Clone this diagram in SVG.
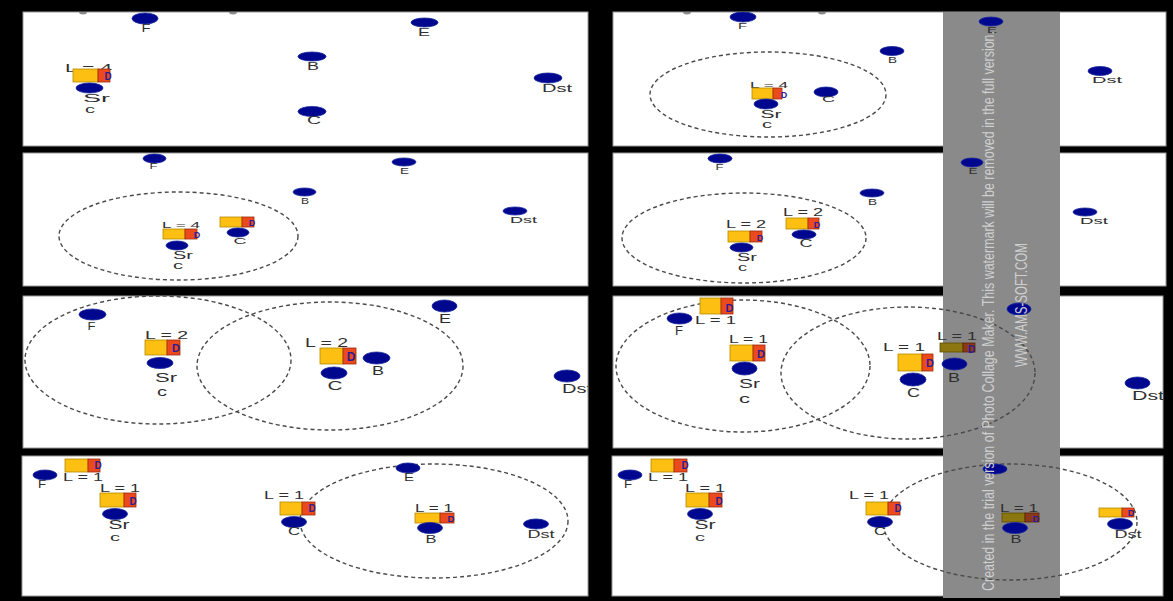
<svg xmlns="http://www.w3.org/2000/svg" width="1173" height="601" viewBox="0 0 1173 601">
<style>
.pn{fill:#fff;stroke:#9a9a9a;stroke-width:1}
.n{fill:#00078f;stroke:#1a2a9c;stroke-width:.8}
.t{font-family:"Liberation Sans",Arial,sans-serif;fill:#2f2f2f;text-anchor:middle}
.ts{font-family:"Liberation Sans",Arial,sans-serif;fill:#2f2f2f;text-anchor:start}
.ring{fill:none;stroke:#4a4a4a;stroke-width:1.4;stroke-dasharray:4 3}
.yb{fill:#fcbf12;stroke:#b58a00;stroke-width:.8}
.rb{fill:#ea4a1c;stroke:#9c2c10;stroke-width:.8}
.ydk{fill:#8c7610;stroke:#5e4e00;stroke-width:.8}
.rdk{fill:#8a3a18;stroke:#5a2008;stroke-width:.8}
.d{font-family:"Liberation Sans",Arial,sans-serif;font-weight:bold;fill:#2d1c94;text-anchor:middle}
.sp{fill:#8a8a8a}
.wm{font-family:"Liberation Sans Narrow","Liberation Sans",Arial,sans-serif;fill:#cfcfcf;text-anchor:start}
</style>
<defs>
<clipPath id="c1"><rect x="23" y="12" width="565" height="134"/></clipPath>
<clipPath id="c2"><rect x="613" y="12" width="553" height="134"/></clipPath>
<clipPath id="c3"><rect x="23" y="153" width="565" height="133"/></clipPath>
<clipPath id="c4"><rect x="613" y="153" width="553" height="133"/></clipPath>
<clipPath id="c5"><rect x="23" y="296" width="565" height="152"/></clipPath>
<clipPath id="c6"><rect x="613" y="296" width="550" height="152"/></clipPath>
<clipPath id="c7"><rect x="22" y="456" width="566" height="140"/></clipPath>
<clipPath id="c8"><rect x="612" y="456" width="551" height="140"/></clipPath>
</defs>
<rect x="0" y="0" width="1173" height="601" fill="#000"/>
<g id="panels">
<rect class="pn" x="23" y="12" width="565" height="134"/>
<rect class="pn" x="613" y="12" width="553" height="134"/>
<rect class="pn" x="23" y="153" width="565" height="133"/>
<rect class="pn" x="613" y="153" width="553" height="133"/>
<rect class="pn" x="23" y="296" width="565" height="152"/>
<rect class="pn" x="613" y="296" width="550" height="152"/>
<rect class="pn" x="22" y="456" width="566" height="140"/>
<rect class="pn" x="612" y="456" width="551" height="140"/>
</g>
<rect id="band" x="943" y="12" width="117" height="586" fill="#8a8a8a"/>

<!-- Panel 1 -->
<g id="panel1" clip-path="url(#c1)">
<ellipse class="sp" cx="83" cy="12" rx="4" ry="2.5"/>
<ellipse class="sp" cx="233" cy="12" rx="4" ry="2.5"/>
<g id="p1-F"><ellipse class="n" cx="145" cy="18.5" rx="13" ry="5.5"/><text class="t" x="146" y="32" font-size="10" textLength="9" lengthAdjust="spacingAndGlyphs">F</text></g>
<g id="p1-E"><ellipse class="n" cx="424.5" cy="22.5" rx="13.5" ry="4.5"/><text class="t" x="424" y="36" font-size="10" textLength="12" lengthAdjust="spacingAndGlyphs">E</text></g>
<g id="p1-B"><ellipse class="n" cx="312" cy="56.5" rx="14" ry="4.5"/><text class="t" x="313" y="70" font-size="10" textLength="12" lengthAdjust="spacingAndGlyphs">B</text></g>
<g id="p1-C"><ellipse class="n" cx="312" cy="111.5" rx="14" ry="5"/><text class="t" x="314" y="124" font-size="10" textLength="14" lengthAdjust="spacingAndGlyphs">C</text></g>
<g id="p1-Dst"><ellipse class="n" cx="548" cy="78" rx="14" ry="5"/><text class="t" x="557" y="92" font-size="10" textLength="30" lengthAdjust="spacingAndGlyphs">Dst</text></g>
<g id="p1-Sr">
<text class="t" x="88.5" y="72" font-size="11" textLength="47" lengthAdjust="spacingAndGlyphs">L = 4</text>
<rect class="yb" x="73" y="69" width="25" height="13"/><rect class="rb" x="98" y="69" width="12" height="13"/><text class="d" x="108" y="80" font-size="10">D</text>
<ellipse class="n" cx="89.5" cy="88" rx="13.5" ry="5"/>
<text class="t" x="96.5" y="102" font-size="11" textLength="27" lengthAdjust="spacingAndGlyphs">Sr</text>
<text class="t" x="90" y="113" font-size="11" textLength="10" lengthAdjust="spacingAndGlyphs">c</text>
</g>
</g>

<!-- Panel 2 -->
<g id="panel2" clip-path="url(#c2)">
<ellipse class="sp" cx="687" cy="12" rx="4" ry="2.5"/>
<ellipse class="sp" cx="822" cy="12" rx="4" ry="2.5"/>
<g id="p2-ranges"><ellipse class="ring" cx="768" cy="94.5" rx="118" ry="42.5"/></g>
<g id="p2-F"><ellipse class="n" cx="743" cy="17" rx="13" ry="5"/><text class="t" x="742.5" y="29" font-size="9.5" textLength="9" lengthAdjust="spacingAndGlyphs">F</text></g>
<g id="p2-Sr">
<text class="t" x="769" y="88" font-size="9" textLength="38" lengthAdjust="spacingAndGlyphs">L = 4</text>
<rect class="yb" x="752" y="88" width="21" height="11"/><rect class="rb" x="773" y="88" width="9" height="11"/><text class="d" x="784" y="98" font-size="9">D</text>
<ellipse class="n" cx="766" cy="104" rx="12" ry="5"/>
<text class="t" x="771" y="118" font-size="11" textLength="21" lengthAdjust="spacingAndGlyphs">Sr</text>
<text class="t" x="767" y="128" font-size="10" textLength="10" lengthAdjust="spacingAndGlyphs">c</text>
</g>
<g id="p2-C"><ellipse class="n" cx="826" cy="92" rx="12" ry="5"/><text class="t" x="828.5" y="102" font-size="9.5" textLength="13" lengthAdjust="spacingAndGlyphs">C</text></g>
<g id="p2-B"><ellipse class="n" cx="892" cy="51" rx="12" ry="4.5"/><text class="t" x="892.5" y="63" font-size="9" textLength="9" lengthAdjust="spacingAndGlyphs">B</text></g>
<g id="p2-E"><ellipse class="n" cx="991" cy="21.5" rx="12" ry="4.5"/><text class="t" x="992" y="33" font-size="9" textLength="10" lengthAdjust="spacingAndGlyphs">E</text></g>
<g id="p2-Dst"><ellipse class="n" cx="1100" cy="71" rx="12" ry="4.5"/><text class="t" x="1107" y="83" font-size="9" textLength="30" lengthAdjust="spacingAndGlyphs">Dst</text></g>
</g>

<!-- Panel 3 -->
<g id="panel3" clip-path="url(#c3)">
<g id="p3-ranges"><ellipse class="ring" cx="178.5" cy="236" rx="119.5" ry="44"/></g>
<g id="p3-F"><ellipse class="n" cx="154.5" cy="158.5" rx="11.5" ry="4.5"/><text class="t" x="153.5" y="169" font-size="9" textLength="8" lengthAdjust="spacingAndGlyphs">F</text></g>
<g id="p3-Sr">
<text class="t" x="181" y="228" font-size="9" textLength="38" lengthAdjust="spacingAndGlyphs">L = 4</text>
<rect class="yb" x="163" y="229" width="22" height="10"/><rect class="rb" x="185" y="229" width="12" height="10"/><text class="d" x="197" y="238" font-size="9">D</text>
<ellipse class="n" cx="177" cy="245.5" rx="11" ry="4.5"/>
<text class="t" x="183" y="259" font-size="10.5" textLength="20" lengthAdjust="spacingAndGlyphs">Sr</text>
<text class="t" x="178" y="269" font-size="10" textLength="10" lengthAdjust="spacingAndGlyphs">c</text>
</g>
<g id="p3-C">
<rect class="yb" x="220" y="217" width="22" height="10"/><rect class="rb" x="242" y="217" width="12" height="10"/><text class="d" x="252" y="226" font-size="9">D</text>
<ellipse class="n" cx="238" cy="232.5" rx="11" ry="4.5"/>
<text class="t" x="240" y="244" font-size="9.5" textLength="13" lengthAdjust="spacingAndGlyphs">C</text>
</g>
<g id="p3-E"><ellipse class="n" cx="404" cy="162" rx="12" ry="4"/><text class="t" x="404.5" y="174" font-size="9" textLength="9" lengthAdjust="spacingAndGlyphs">E</text></g>
<g id="p3-B"><ellipse class="n" cx="304.5" cy="192" rx="11.5" ry="4"/><text class="t" x="305" y="204" font-size="9" textLength="8" lengthAdjust="spacingAndGlyphs">B</text></g>
<g id="p3-Dst"><ellipse class="n" cx="515" cy="211" rx="12" ry="4"/><text class="t" x="523.5" y="223" font-size="9" textLength="27" lengthAdjust="spacingAndGlyphs">Dst</text></g>
</g>

<!-- Panel 4 -->
<g id="panel4" clip-path="url(#c4)">
<g id="p4-ranges"><ellipse class="ring" cx="744" cy="238" rx="122" ry="45"/></g>
<g id="p4-F"><ellipse class="n" cx="720" cy="158.5" rx="12" ry="4.5"/><text class="t" x="719.5" y="170" font-size="9" textLength="8" lengthAdjust="spacingAndGlyphs">F</text></g>
<g id="p4-Sr">
<text class="t" x="746" y="228" font-size="10" textLength="40" lengthAdjust="spacingAndGlyphs">L = 2</text>
<rect class="yb" x="728" y="231" width="22" height="11"/><rect class="rb" x="750" y="231" width="12" height="11"/><text class="d" x="760" y="241" font-size="9">D</text>
<ellipse class="n" cx="741.5" cy="247.5" rx="11.5" ry="4.5"/>
<text class="t" x="747" y="261" font-size="11" textLength="20" lengthAdjust="spacingAndGlyphs">Sr</text>
<text class="t" x="742.5" y="271" font-size="10" textLength="9" lengthAdjust="spacingAndGlyphs">c</text>
</g>
<g id="p4-C">
<text class="t" x="803" y="216" font-size="10" textLength="40" lengthAdjust="spacingAndGlyphs">L = 2</text>
<rect class="yb" x="786" y="218" width="22" height="11"/><rect class="rb" x="808" y="218" width="11" height="11"/><text class="d" x="817" y="228" font-size="9">D</text>
<ellipse class="n" cx="804" cy="234.5" rx="12" ry="4.5"/>
<text class="t" x="806" y="247" font-size="10" textLength="13" lengthAdjust="spacingAndGlyphs">C</text>
</g>
<g id="p4-B"><ellipse class="n" cx="872" cy="193" rx="12" ry="4"/><text class="t" x="872.5" y="205" font-size="9" textLength="9" lengthAdjust="spacingAndGlyphs">B</text></g>
<g id="p4-E"><ellipse class="n" cx="972" cy="162.5" rx="11" ry="4.5"/><text class="t" x="973" y="174" font-size="9" textLength="9" lengthAdjust="spacingAndGlyphs">E</text></g>
<g id="p4-Dst"><ellipse class="n" cx="1085" cy="212" rx="12" ry="4"/><text class="t" x="1094" y="224" font-size="9" textLength="28" lengthAdjust="spacingAndGlyphs">Dst</text></g>
</g>

<!-- Panel 5 -->
<g id="panel5" clip-path="url(#c5)">
<g id="p5-ranges"><ellipse class="ring" cx="158" cy="360" rx="133" ry="64"/><ellipse class="ring" cx="330" cy="366" rx="133" ry="64"/></g>
<g id="p5-F"><ellipse class="n" cx="92.5" cy="314.5" rx="13.5" ry="5.5"/><text class="t" x="91.5" y="330" font-size="11.5" textLength="8" lengthAdjust="spacingAndGlyphs">F</text></g>
<g id="p5-Sr">
<text class="t" x="166.5" y="339" font-size="10.5" textLength="43" lengthAdjust="spacingAndGlyphs">L = 2</text>
<rect class="yb" x="145" y="340" width="22" height="15"/><rect class="rb" x="167" y="340" width="13" height="15"/><text class="d" x="176" y="352" font-size="11">D</text>
<ellipse class="n" cx="160" cy="363" rx="13" ry="5.5"/>
<text class="t" x="166" y="382" font-size="13" textLength="22" lengthAdjust="spacingAndGlyphs">Sr</text>
<text class="t" x="162" y="396" font-size="12" textLength="10" lengthAdjust="spacingAndGlyphs">c</text>
</g>
<g id="p5-C">
<text class="t" x="326.5" y="347" font-size="12" textLength="43" lengthAdjust="spacingAndGlyphs">L = 2</text>
<rect class="yb" x="320" y="348" width="23" height="16"/><rect class="rb" x="343" y="348" width="13" height="16"/><text class="d" x="351" y="361" font-size="12">D</text>
<ellipse class="n" cx="334" cy="373" rx="13" ry="6"/>
<text class="t" x="335" y="390" font-size="12.5" textLength="15" lengthAdjust="spacingAndGlyphs">C</text>
</g>
<g id="p5-B"><ellipse class="n" cx="376.5" cy="358" rx="13.5" ry="6"/><text class="t" x="378" y="375" font-size="12" textLength="12" lengthAdjust="spacingAndGlyphs">B</text></g>
<g id="p5-E"><ellipse class="n" cx="444.5" cy="306" rx="12.5" ry="6"/><text class="t" x="445" y="323" font-size="12" textLength="12" lengthAdjust="spacingAndGlyphs">E</text></g>
<g id="p5-Dst"><ellipse class="n" cx="567" cy="376" rx="13" ry="6"/><text class="ts" x="562" y="393" font-size="12" textLength="30" lengthAdjust="spacingAndGlyphs">Dst</text></g>
</g>

<!-- Panel 6 -->
<g id="panel6" clip-path="url(#c6)">
<g id="p6-ranges"><ellipse class="ring" cx="743" cy="366" rx="127" ry="66"/><ellipse class="ring" cx="908" cy="373" rx="127" ry="66"/></g>
<g id="p6-F">
<rect class="yb" x="700" y="298" width="21" height="16"/><rect class="rb" x="721" y="298" width="12" height="16"/><text class="d" x="729.5" y="312" font-size="11">D</text>
<text class="t" x="715.5" y="324" font-size="11" textLength="41" lengthAdjust="spacingAndGlyphs">L = 1</text>
<ellipse class="n" cx="679.5" cy="318.5" rx="12.5" ry="5.5"/>
<text class="t" x="679" y="335" font-size="12" textLength="8" lengthAdjust="spacingAndGlyphs">F</text>
</g>
<g id="p6-Sr">
<text class="t" x="748.5" y="343" font-size="11" textLength="39" lengthAdjust="spacingAndGlyphs">L = 1</text>
<rect class="yb" x="730" y="345" width="23" height="16"/><rect class="rb" x="753" y="345" width="12" height="16"/><text class="d" x="761" y="358" font-size="11">D</text>
<ellipse class="n" cx="744.5" cy="368.5" rx="12.5" ry="6.5"/>
<text class="t" x="749.5" y="388" font-size="13.5" textLength="21" lengthAdjust="spacingAndGlyphs">Sr</text>
<text class="t" x="744.5" y="403" font-size="12.5" textLength="11" lengthAdjust="spacingAndGlyphs">c</text>
</g>
<g id="p6-C">
<text class="t" x="904" y="351" font-size="11.5" textLength="42" lengthAdjust="spacingAndGlyphs">L = 1</text>
<rect class="yb" x="898" y="354" width="24" height="17"/><rect class="rb" x="922" y="354" width="11" height="17"/><text class="d" x="930" y="367" font-size="11">D</text>
<ellipse class="n" cx="913" cy="379.5" rx="13" ry="6.5"/>
<text class="t" x="913.5" y="397" font-size="12.5" textLength="13" lengthAdjust="spacingAndGlyphs">C</text>
</g>
<g id="p6-B">
<text class="t" x="957" y="340" font-size="11" textLength="40" lengthAdjust="spacingAndGlyphs">L = 1</text>
<rect class="ydk" x="940" y="343" width="23" height="9"/><rect class="rdk" x="963" y="343" width="12" height="9"/><text class="d" x="971.5" y="353" font-size="10">D</text>
<ellipse class="n" cx="954.5" cy="364" rx="12.5" ry="6"/>
<text class="t" x="954" y="382" font-size="12" textLength="12" lengthAdjust="spacingAndGlyphs">B</text>
</g>
<g id="p6-E"><ellipse class="n" cx="1019" cy="309" rx="12" ry="6"/></g>
<g id="p6-Dst"><ellipse class="n" cx="1137.5" cy="383" rx="12.5" ry="6"/><text class="ts" x="1132" y="400" font-size="12" textLength="32" lengthAdjust="spacingAndGlyphs">Dst</text></g>
</g>

<!-- Panel 7 -->
<g id="panel7" clip-path="url(#c7)">
<g id="p7-ranges"><ellipse class="ring" cx="434" cy="521" rx="134" ry="57"/></g>
<g id="p7-F">
<rect class="yb" x="65" y="459" width="23" height="13"/><rect class="rb" x="88" y="459" width="12" height="13"/><text class="d" x="98" y="469" font-size="10">D</text>
<text class="t" x="83" y="481" font-size="11" textLength="40" lengthAdjust="spacingAndGlyphs">L = 1</text>
<ellipse class="n" cx="45" cy="475" rx="12" ry="5"/>
<text class="t" x="42" y="488" font-size="10.5" textLength="8" lengthAdjust="spacingAndGlyphs">F</text>
</g>
<g id="p7-Sr">
<text class="t" x="120" y="492" font-size="11" textLength="40" lengthAdjust="spacingAndGlyphs">L = 1</text>
<rect class="yb" x="100" y="493" width="24" height="14"/><rect class="rb" x="124" y="493" width="12" height="14"/><text class="d" x="133" y="505" font-size="10">D</text>
<ellipse class="n" cx="115" cy="514" rx="12.5" ry="5.5"/>
<text class="t" x="119" y="529" font-size="12.5" textLength="21" lengthAdjust="spacingAndGlyphs">Sr</text>
<text class="t" x="115" y="541" font-size="11.5" textLength="10" lengthAdjust="spacingAndGlyphs">c</text>
</g>
<g id="p7-C">
<text class="t" x="284" y="499" font-size="11" textLength="40" lengthAdjust="spacingAndGlyphs">L = 1</text>
<rect class="yb" x="280" y="502" width="22" height="13"/><rect class="rb" x="302" y="502" width="13" height="13"/><text class="d" x="312" y="512" font-size="10">D</text>
<ellipse class="n" cx="294" cy="522" rx="12.5" ry="5.5"/>
<text class="t" x="294" y="535" font-size="11.5" textLength="12" lengthAdjust="spacingAndGlyphs">C</text>
</g>
<g id="p7-E"><ellipse class="n" cx="408" cy="468" rx="12" ry="5"/><text class="t" x="409" y="481" font-size="10" textLength="10" lengthAdjust="spacingAndGlyphs">E</text></g>
<g id="p7-B">
<text class="t" x="434" y="512" font-size="11" textLength="38" lengthAdjust="spacingAndGlyphs">L = 1</text>
<rect class="yb" x="415" y="513" width="25" height="10"/><rect class="rb" x="440" y="513" width="14" height="10"/><text class="d" x="451" y="522" font-size="9.5">D</text>
<ellipse class="n" cx="430" cy="528" rx="12.5" ry="5.5"/>
<text class="t" x="431" y="543" font-size="11" textLength="11" lengthAdjust="spacingAndGlyphs">B</text>
</g>
<g id="p7-Dst"><ellipse class="n" cx="536" cy="524" rx="12.5" ry="5"/><text class="t" x="541" y="538" font-size="10" textLength="27" lengthAdjust="spacingAndGlyphs">Dst</text></g>
</g>

<!-- Panel 8 -->
<g id="panel8" clip-path="url(#c8)">
<g id="p8-ranges"><ellipse class="ring" cx="1010" cy="522" rx="127" ry="58"/></g>
<g id="p8-F">
<rect class="yb" x="651" y="459" width="23" height="13"/><rect class="rb" x="674" y="459" width="13" height="13"/><text class="d" x="685" y="469" font-size="10">D</text>
<text class="t" x="668" y="481" font-size="11" textLength="40" lengthAdjust="spacingAndGlyphs">L = 1</text>
<ellipse class="n" cx="630" cy="475" rx="12" ry="5"/>
<text class="t" x="628" y="488" font-size="10.5" textLength="8" lengthAdjust="spacingAndGlyphs">F</text>
</g>
<g id="p8-Sr">
<text class="t" x="705" y="492" font-size="11" textLength="40" lengthAdjust="spacingAndGlyphs">L = 1</text>
<rect class="yb" x="686" y="493" width="23" height="14"/><rect class="rb" x="709" y="493" width="13" height="14"/><text class="d" x="719" y="505" font-size="10">D</text>
<ellipse class="n" cx="700" cy="514" rx="12.5" ry="5.5"/>
<text class="t" x="705" y="529" font-size="12.5" textLength="21" lengthAdjust="spacingAndGlyphs">Sr</text>
<text class="t" x="700" y="541" font-size="11.5" textLength="10" lengthAdjust="spacingAndGlyphs">c</text>
</g>
<g id="p8-C">
<text class="t" x="869" y="499" font-size="11" textLength="40" lengthAdjust="spacingAndGlyphs">L = 1</text>
<rect class="yb" x="866" y="502" width="22" height="13"/><rect class="rb" x="888" y="502" width="12" height="13"/><text class="d" x="898" y="512" font-size="10">D</text>
<ellipse class="n" cx="880" cy="522" rx="12.5" ry="5.5"/>
<text class="t" x="880" y="535" font-size="11.5" textLength="12" lengthAdjust="spacingAndGlyphs">C</text>
</g>
<g id="p8-E"><ellipse class="n" cx="995" cy="469" rx="12" ry="5"/></g>
<g id="p8-B">
<text class="t" x="1019" y="512" font-size="11" textLength="38" lengthAdjust="spacingAndGlyphs">L = 1</text>
<rect class="ydk" x="1002" y="513" width="23" height="9"/><rect class="rdk" x="1025" y="513" width="14" height="9"/><text class="d" x="1036" y="522" font-size="9.5">D</text>
<ellipse class="n" cx="1015" cy="528" rx="12.5" ry="5.5"/>
<text class="t" x="1016" y="543" font-size="11" textLength="11" lengthAdjust="spacingAndGlyphs">B</text>
</g>
<g id="p8-Dst">
<rect class="yb" x="1099" y="508" width="23" height="9"/><rect class="rb" x="1122" y="508" width="12" height="9"/><text class="d" x="1131" y="516" font-size="9">D</text>
<ellipse class="n" cx="1120" cy="524" rx="12.5" ry="5.5"/>
<text class="t" x="1128" y="538" font-size="10" textLength="27" lengthAdjust="spacingAndGlyphs">Dst</text>
</g>
</g>

<g id="watermark">
<text class="wm" transform="translate(994,591) rotate(-90)" x="0" y="0" font-size="17" textLength="560" lengthAdjust="spacingAndGlyphs">Created in the trial version of Photo Collage Maker. This watermark will be removed in the full version.</text>
<text class="wm" transform="translate(1027,367) rotate(-90)" x="0" y="0" font-size="17" textLength="124" lengthAdjust="spacingAndGlyphs">WWW.AMS-SOFT.COM</text>
</g>
</svg>
